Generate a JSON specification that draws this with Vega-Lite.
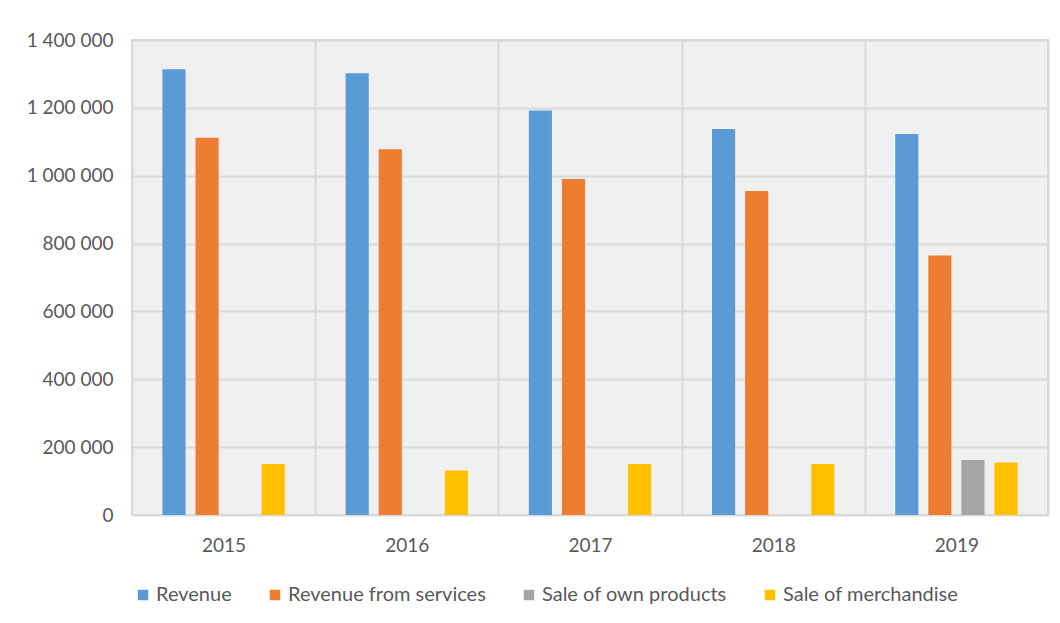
{
  "$schema": "https://vega.github.io/schema/vega-lite/v6.json",
  "width": 916,
  "height": 475,
  "autosize": {"type": "none"},
  "padding": {"left": 132, "top": 40, "right": 12, "bottom": 108},
  "background": "white",
  "config": {
    "font": "Lato",
    "view": {"fill": "#f0f0f0", "stroke": "#d9d9d9", "strokeWidth": 2}
  },
  "data": {
    "values": [
      {"year": "2015", "series": "Revenue", "value": 1314000},
      {"year": "2015", "series": "Revenue from services", "value": 1112000},
      {"year": "2015", "series": "Sale of merchandise", "value": 150000},
      {"year": "2016", "series": "Revenue", "value": 1302000},
      {"year": "2016", "series": "Revenue from services", "value": 1078000},
      {"year": "2016", "series": "Sale of merchandise", "value": 131000},
      {"year": "2017", "series": "Revenue", "value": 1192000},
      {"year": "2017", "series": "Revenue from services", "value": 990000},
      {"year": "2017", "series": "Sale of merchandise", "value": 150000},
      {"year": "2018", "series": "Revenue", "value": 1138000},
      {"year": "2018", "series": "Revenue from services", "value": 955000},
      {"year": "2018", "series": "Sale of merchandise", "value": 150000},
      {"year": "2019", "series": "Revenue", "value": 1123000},
      {"year": "2019", "series": "Revenue from services", "value": 765000},
      {"year": "2019", "series": "Sale of own products", "value": 162000},
      {"year": "2019", "series": "Sale of merchandise", "value": 155000}
    ]
  },
  "mark": {"type": "bar"},
  "encoding": {
    "x": {
      "field": "year",
      "type": "nominal",
      "scale": {"paddingInner": 0, "paddingOuter": 0},
      "axis": {
        "title": null,
        "labelAngle": 0,
        "tickBand": "extent",
        "grid": true,
        "gridColor": "#d9d9d9",
        "gridWidth": 2,
        "ticks": false,
        "domain": false,
        "labelPadding": 21,
        "labelFontSize": 19,
        "labelColor": "#595959"
      }
    },
    "xOffset": {
      "field": "series",
      "type": "nominal",
      "scale": {
        "domain": ["Revenue", "Revenue from services", "Sale of own products", "Sale of merchandise"],
        "paddingInner": 0.3,
        "paddingOuter": 0.92
      }
    },
    "y": {
      "field": "value",
      "type": "quantitative",
      "scale": {"domain": [0, 1400000], "nice": false},
      "axis": {
        "title": null,
        "values": [0, 200000, 400000, 600000, 800000, 1000000, 1200000, 1400000],
        "labelExpr": "replace(replace(format(datum.value, ','), ',', ' '), ',', ' ')",
        "grid": true,
        "gridColor": "#d9d9d9",
        "gridWidth": 2,
        "ticks": false,
        "domain": false,
        "labelPadding": 19,
        "labelFontSize": 19,
        "labelColor": "#595959"
      }
    },
    "color": {
      "field": "series",
      "type": "nominal",
      "scale": {
        "domain": ["Revenue", "Revenue from services", "Sale of own products", "Sale of merchandise"],
        "range": ["#5B9BD5", "#ED7D31", "#A5A5A5", "#FFC000"]
      },
      "legend": {
        "title": null,
        "orient": "none",
        "legendX": 1,
        "legendY": 545,
        "direction": "horizontal",
        "symbolType": "square",
        "symbolSize": 110,
        "symbolStrokeWidth": 0,
        "labelFontSize": 20,
        "labelLimit": 400,
        "labelColor": "#595959",
        "labelOffset": 3,
        "columnPadding": 33
      }
    }
  }
}
